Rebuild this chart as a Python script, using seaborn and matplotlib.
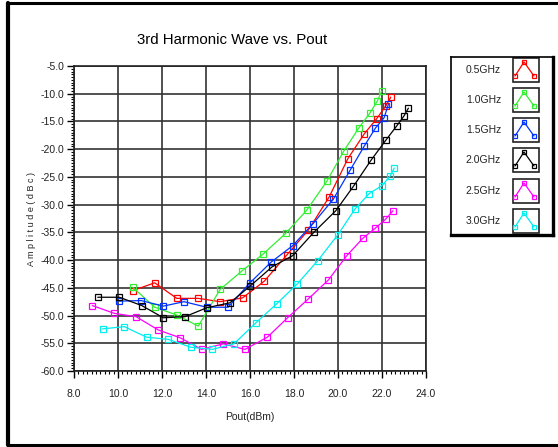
import numpy as np
import pandas as pd
import matplotlib
matplotlib.use("Agg")
import matplotlib.pyplot as plt
from matplotlib.lines import Line2D
from matplotlib.patches import Rectangle
from matplotlib.ticker import MultipleLocator
import seaborn as sns

# ---------------- data ----------------
freqs = ["0.5GHz", "1.0GHz", "1.5GHz", "2.0GHz", "2.5GHz", "3.0GHz"]
colors = ["#ff0000", "#33ee33", "#0033ff", "#000000", "#ff00ff", "#00eeee"]

pout_05 = [10.67, 11.67, 12.67, 13.65, 14.64, 15.67, 16.65, 17.67, 18.65, 19.6, 20.45, 21.2, 21.76, 22.17, 22.4]
amp_05 = [-45.5, -44.1, -46.9, -46.9, -47.5, -46.8, -43.8, -39.1, -34.6, -28.6, -21.7, -17.2, -14.5, -12.2, -10.6]

pout_10 = [10.67, 11.67, 12.67, 13.65, 14.64, 15.62, 16.6, 17.62, 18.58, 19.49, 20.27, 20.94, 21.45, 21.79, 21.99]
amp_10 = [-44.9, -48.5, -49.9, -51.9, -45.3, -42.0, -38.9, -35.2, -31.0, -25.8, -20.3, -16.2, -13.5, -11.3, -9.5]

pout_15 = [10.06, 11.05, 12.06, 13.0, 14.03, 15.0, 16.0, 16.95, 17.94, 18.85, 19.79, 20.55, 21.2, 21.7, 22.1, 22.29]
amp_15 = [-47.4, -47.3, -48.3, -47.5, -48.5, -48.5, -44.1, -40.4, -37.4, -33.5, -29.0, -23.8, -19.4, -16.2, -14.3, -11.9]

pout_20 = [9.08, 10.06, 11.08, 12.06, 13.05, 14.03, 15.09, 16.0, 17.01, 17.94, 18.9, 19.9, 20.7, 21.5, 22.17, 22.67, 23.0, 23.2]
amp_20 = [-46.7, -46.7, -48.2, -50.4, -50.2, -48.6, -47.7, -44.7, -41.2, -39.2, -35.0, -31.1, -26.7, -22.0, -18.4, -15.8, -14.0, -12.6]

pout_25 = [8.83, 9.83, 10.82, 11.83, 12.82, 13.8, 14.79, 15.77, 16.79, 17.71, 18.65, 19.56, 20.4, 21.12, 21.68, 22.17, 22.5]
amp_25 = [-48.2, -49.6, -50.2, -52.6, -54.0, -56.1, -55.1, -56.1, -53.9, -50.4, -47.0, -43.6, -39.2, -36.1, -34.3, -32.6, -31.1]

pout_30 = [9.3, 10.29, 11.3, 12.29, 13.3, 14.29, 15.27, 16.27, 17.21, 18.15, 19.08, 20.0, 20.77, 21.42, 21.99, 22.36, 22.56]
amp_30 = [-52.4, -52.0, -53.9, -54.3, -55.7, -56.1, -55.1, -51.3, -47.9, -44.3, -40.1, -35.4, -30.8, -28.0, -26.6, -24.9, -23.4]

xticks = [8.0, 10.0, 12.0, 14.0, 16.0, 18.0, 20.0, 22.0, 24.0]
yticks = [-5.0, -10.0, -15.0, -20.0, -25.0, -30.0, -35.0, -40.0, -45.0, -50.0, -55.0, -60.0]

series = [pout_05, pout_10, pout_15, pout_20, pout_25, pout_30]
amps = [amp_05, amp_10, amp_15, amp_20, amp_25, amp_30]

rows = []
for f, xs, ys in zip(freqs, series, amps):
    for i, (x, y) in enumerate(zip(xs, ys)):
        rows.append({"Freq": f, "Pout": x, "Amp": y, "idx": i})
df = pd.DataFrame(rows)

# ---------------- figure ----------------
sns.set_theme(style="white")
plt.rcParams["font.family"] = ["Liberation Sans Narrow", "DejaVu Sans Condensed", "Liberation Sans", "DejaVu Sans"]

W, H = 558, 447
fig = plt.figure(figsize=(W / 100, H / 100), dpi=100)
fig.patch.set_facecolor("white")
fig.patch.set_edgecolor("white")
fig.patch.set_linewidth(0)

ax = fig.add_axes([74 / W, 1 - 371 / H, (426 - 74) / W, (371 - 66) / H])

palette = dict(zip(freqs, colors))
sns.lineplot(data=df, x="Pout", y="Amp", hue="Freq", units="Freq", estimator=None,
             sort=False, palette=palette, marker="s", markersize=4.4,
             markerfacecolor="none", markeredgewidth=0.9, linewidth=0.9,
             legend=False, ax=ax)
for ln, c in zip(ax.lines, colors):
    ln.set_markeredgecolor(c)
    ln.set_markerfacecolor("none")

ax.set_xlim(8, 24)
ax.set_ylim(-60, -5)
ax.set_xticks(xticks)
ax.set_yticks(yticks)
ax.set_xticklabels([f"{v:.1f}" for v in xticks])
ax.set_yticklabels([f"{v:.1f}" for v in yticks])
ax.xaxis.set_minor_locator(MultipleLocator(0.2))
ax.yaxis.set_minor_locator(MultipleLocator(0.5))
ax.tick_params(axis="x", which="major", pad=8)
ax.tick_params(axis="y", which="major", pad=2)
ax.tick_params(axis="both", which="major", direction="out", length=5, width=1.0,
               labelsize=7.5, colors="black", bottom=True, left=True)
ax.tick_params(axis="both", which="minor", direction="out", length=2.5, width=0.8,
               colors="black", bottom=True, left=True)
for lab in ax.get_xticklabels() + ax.get_yticklabels():
    lab.set_color("#222222")
ax.grid(True, which="major", color="#333333", linewidth=1.2)
for s in ax.spines.values():
    s.set_color("#222222")
    s.set_linewidth(1.2)
ax.set_xlabel("Pout(dBm)", fontsize=7.5, labelpad=9, color="#222222")
ax.set_ylabel("A m p l i t u d e ( d B c )", fontsize=6.5, labelpad=3, color="#222222")
fig.text(232 / W, 1 - 40 / H, "3rd Harmonic Wave vs. Pout", fontsize=10.8,
         ha="center", va="center", color="black")

# ---------------- legend box ----------------
lax = fig.add_axes([451 / W, 1 - 235 / H, (553 - 451) / W, (235 - 57) / H])
lax.set_xlim(451, 553)
lax.set_ylim(235, 57)
lax.set_xticks([])
lax.set_yticks([])
for s in lax.spines.values():
    s.set_color("black")
    s.set_linewidth(1.2)
lax.spines["bottom"].set_linewidth(2.4)
lax.spines["right"].set_linewidth(2.4)
ys_leg = [70, 100, 130, 160, 191, 221]
for f, c, yy in zip(freqs, colors, ys_leg):
    lax.text(501, yy, f, ha="right", va="center", fontsize=7.5, color="#222222")
    lax.add_patch(Rectangle((513, yy - 12), 26, 24, fill=False, edgecolor="#222222", linewidth=1.2))
    xx = [515, 524, 534]
    yy3 = [yy + 6, yy - 8, yy + 6]
    lax.plot(xx, yy3, color=c, linewidth=0.9, marker="s", markersize=3.0,
             markerfacecolor="none", markeredgecolor=c, markeredgewidth=0.9)

# ---------------- outer border ----------------
fig.add_artist(Line2D([8 / W, 8 / W], [1 - 3 / H, 1 - 445 / H], color="black", linewidth=3.0,
                      transform=fig.transFigure))
fig.add_artist(Line2D([8 / W, 1.02], [1 - 3 / H, 1 - 3 / H], color="black", linewidth=2.2,
                      transform=fig.transFigure))
fig.add_artist(Line2D([8 / W, 1.02], [1 - 445 / H, 1 - 445 / H], color="black", linewidth=2.2,
                      transform=fig.transFigure))

fig.savefig("out.png", dpi=100, facecolor="white")
